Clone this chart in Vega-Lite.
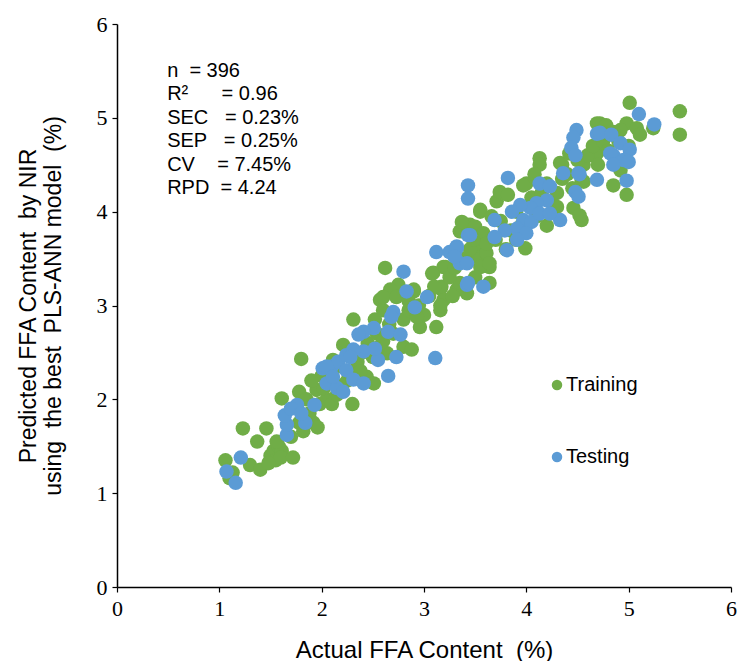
{
  "$schema": "https://vega.github.io/schema/vega-lite/v6.json",
  "width": 614,
  "height": 563,
  "autosize": {"type": "none"},
  "padding": {"left": 117, "top": 24, "right": 6, "bottom": 74},
  "background": "white",
  "config": {
    "view": {"stroke": null},
    "axis": {
      "domainColor": "black", "domainWidth": 1.5, "tickColor": "black", "tickWidth": 1.2, "tickSize": 5,
      "grid": false, "labelFont": "Liberation Serif", "labelFontSize": 22, "labelColor": "black", "labelFlush": false, "format": "d",
      "titleFont": "Liberation Sans", "titleFontSize": 23, "titleFontWeight": "normal", "titleColor": "black"
    }
  },
  "datasets": {
    "pts": [
      {"x":1.06,"y":1.35,"s":"Training"},{"x":1.10,"y":1.16,"s":"Training"},{"x":1.13,"y":1.22,"s":"Training"},{"x":1.23,"y":1.69,"s":"Training"},{"x":1.30,"y":1.30,"s":"Training"},{"x":1.40,"y":1.25,"s":"Training"},{"x":1.37,"y":1.55,"s":"Training"},{"x":1.46,"y":1.69,"s":"Training"},{"x":1.50,"y":1.40,"s":"Training"},{"x":1.53,"y":1.45,"s":"Training"},{"x":1.55,"y":1.35,"s":"Training"},{"x":1.58,"y":1.50,"s":"Training"},{"x":1.61,"y":1.45,"s":"Training"},{"x":1.56,"y":1.55,"s":"Training"},{"x":1.60,"y":1.38,"s":"Training"},{"x":1.48,"y":1.32,"s":"Training"},{"x":1.72,"y":1.38,"s":"Training"},{"x":1.82,"y":1.66,"s":"Training"},{"x":1.92,"y":1.75,"s":"Training"},{"x":1.61,"y":2.01,"s":"Training"},{"x":1.78,"y":2.08,"s":"Training"},{"x":1.80,"y":2.43,"s":"Training"},{"x":1.95,"y":2.10,"s":"Training"},{"x":1.88,"y":1.85,"s":"Training"},{"x":1.98,"y":1.95,"s":"Training"},{"x":2.05,"y":2.00,"s":"Training"},{"x":2.10,"y":1.95,"s":"Training"},{"x":2.15,"y":2.05,"s":"Training"},{"x":2.25,"y":2.20,"s":"Training"},{"x":2.30,"y":1.95,"s":"Training"},{"x":2.20,"y":2.15,"s":"Training"},{"x":2.11,"y":2.42,"s":"Training"},{"x":2.21,"y":2.58,"s":"Training"},{"x":2.16,"y":2.35,"s":"Training"},{"x":2.30,"y":2.30,"s":"Training"},{"x":2.35,"y":2.40,"s":"Training"},{"x":2.44,"y":2.24,"s":"Training"},{"x":2.51,"y":2.17,"s":"Training"},{"x":2.45,"y":2.60,"s":"Training"},{"x":2.40,"y":2.50,"s":"Training"},{"x":2.31,"y":2.85,"s":"Training"},{"x":2.52,"y":2.85,"s":"Training"},{"x":2.54,"y":2.70,"s":"Training"},{"x":2.64,"y":2.49,"s":"Training"},{"x":2.80,"y":2.56,"s":"Training"},{"x":2.88,"y":2.53,"s":"Training"},{"x":2.96,"y":2.77,"s":"Training"},{"x":3.12,"y":2.77,"s":"Training"},{"x":2.57,"y":3.06,"s":"Training"},{"x":2.60,"y":2.95,"s":"Training"},{"x":2.62,"y":3.40,"s":"Training"},{"x":2.73,"y":3.11,"s":"Training"},{"x":2.75,"y":3.22,"s":"Training"},{"x":2.90,"y":3.15,"s":"Training"},{"x":2.67,"y":3.17,"s":"Training"},{"x":2.60,"y":3.09,"s":"Training"},{"x":2.73,"y":3.09,"s":"Training"},{"x":2.90,"y":3.17,"s":"Training"},{"x":3.16,"y":3.18,"s":"Training"},{"x":3.19,"y":3.06,"s":"Training"},{"x":3.16,"y":2.95,"s":"Training"},{"x":3.09,"y":3.35,"s":"Training"},{"x":3.19,"y":3.41,"s":"Training"},{"x":3.08,"y":3.34,"s":"Training"},{"x":3.21,"y":3.41,"s":"Training"},{"x":3.17,"y":3.20,"s":"Training"},{"x":3.16,"y":3.00,"s":"Training"},{"x":3.32,"y":3.17,"s":"Training"},{"x":3.35,"y":3.18,"s":"Training"},{"x":3.42,"y":3.13,"s":"Training"},{"x":3.35,"y":3.24,"s":"Training"},{"x":3.64,"y":3.24,"s":"Training"},{"x":3.64,"y":3.41,"s":"Training"},{"x":3.58,"y":3.52,"s":"Training"},{"x":3.55,"y":3.59,"s":"Training"},{"x":3.51,"y":3.66,"s":"Training"},{"x":3.51,"y":3.49,"s":"Training"},{"x":3.61,"y":3.56,"s":"Training"},{"x":3.55,"y":3.41,"s":"Training"},{"x":3.64,"y":3.45,"s":"Training"},{"x":3.35,"y":3.79,"s":"Training"},{"x":3.42,"y":3.86,"s":"Training"},{"x":3.45,"y":3.86,"s":"Training"},{"x":3.38,"y":3.79,"s":"Training"},{"x":3.37,"y":3.89,"s":"Training"},{"x":3.50,"y":3.84,"s":"Training"},{"x":3.58,"y":3.77,"s":"Training"},{"x":3.61,"y":3.66,"s":"Training"},{"x":3.55,"y":4.00,"s":"Training"},{"x":3.55,"y":4.02,"s":"Training"},{"x":3.71,"y":4.11,"s":"Training"},{"x":3.74,"y":4.21,"s":"Training"},{"x":3.99,"y":3.61,"s":"Training"},{"x":4.00,"y":4.30,"s":"Training"},{"x":4.13,"y":4.57,"s":"Training"},{"x":4.33,"y":4.52,"s":"Training"},{"x":4.56,"y":4.32,"s":"Training"},{"x":4.54,"y":3.91,"s":"Training"},{"x":4.46,"y":4.04,"s":"Training"},{"x":4.69,"y":4.94,"s":"Training"},{"x":4.67,"y":4.59,"s":"Training"},{"x":4.72,"y":4.94,"s":"Training"},{"x":4.98,"y":4.94,"s":"Training"},{"x":5.08,"y":4.89,"s":"Training"},{"x":5.11,"y":4.82,"s":"Training"},{"x":5.24,"y":4.89,"s":"Training"},{"x":4.92,"y":4.87,"s":"Training"},{"x":5.01,"y":5.16,"s":"Training"},{"x":5.50,"y":5.07,"s":"Training"},{"x":5.50,"y":4.82,"s":"Training"},{"x":4.69,"y":4.62,"s":"Training"},{"x":4.70,"y":4.50,"s":"Training"},{"x":4.85,"y":4.28,"s":"Training"},{"x":4.98,"y":4.18,"s":"Training"},{"x":4.92,"y":4.44,"s":"Training"},{"x":4.56,"y":4.50,"s":"Training"},{"x":4.54,"y":4.34,"s":"Training"},{"x":4.52,"y":3.96,"s":"Training"},{"x":2.00,"y":2.25,"s":"Training"},{"x":2.05,"y":2.30,"s":"Training"},{"x":1.90,"y":2.20,"s":"Training"},{"x":2.50,"y":2.45,"s":"Training"},{"x":2.55,"y":2.55,"s":"Training"},{"x":2.70,"y":2.70,"s":"Training"},{"x":2.80,"y":2.85,"s":"Training"},{"x":2.85,"y":2.95,"s":"Training"},{"x":2.95,"y":3.00,"s":"Training"},{"x":3.00,"y":2.90,"s":"Training"},{"x":3.05,"y":3.10,"s":"Training"},{"x":2.85,"y":3.05,"s":"Training"},{"x":3.25,"y":3.30,"s":"Training"},{"x":3.30,"y":3.40,"s":"Training"},{"x":3.40,"y":3.50,"s":"Training"},{"x":3.45,"y":3.60,"s":"Training"},{"x":3.50,"y":3.30,"s":"Training"},{"x":3.70,"y":3.70,"s":"Training"},{"x":3.75,"y":3.90,"s":"Training"},{"x":3.80,"y":3.60,"s":"Training"},{"x":3.85,"y":3.80,"s":"Training"},{"x":3.90,"y":4.00,"s":"Training"},{"x":3.95,"y":3.85,"s":"Training"},{"x":4.05,"y":4.15,"s":"Training"},{"x":4.10,"y":3.95,"s":"Training"},{"x":4.15,"y":4.20,"s":"Training"},{"x":4.20,"y":4.30,"s":"Training"},{"x":4.25,"y":4.10,"s":"Training"},{"x":4.30,"y":4.20,"s":"Training"},{"x":4.35,"y":4.35,"s":"Training"},{"x":4.40,"y":4.40,"s":"Training"},{"x":4.45,"y":4.25,"s":"Training"},{"x":4.50,"y":4.55,"s":"Training"},{"x":4.60,"y":4.60,"s":"Training"},{"x":4.65,"y":4.70,"s":"Training"},{"x":4.75,"y":4.75,"s":"Training"},{"x":4.80,"y":4.65,"s":"Training"},{"x":4.85,"y":4.85,"s":"Training"},{"x":4.90,"y":4.75,"s":"Training"},{"x":5.00,"y":4.70,"s":"Training"},{"x":4.30,"y":4.05,"s":"Training"},{"x":4.20,"y":3.85,"s":"Training"},{"x":3.90,"y":3.70,"s":"Training"},{"x":3.97,"y":4.28,"s":"Training"},{"x":1.96,"y":1.70,"s":"Training"},{"x":1.78,"y":1.75,"s":"Training"},{"x":4.13,"y":4.50,"s":"Training"},{"x":4.35,"y":4.50,"s":"Training"},{"x":1.70,"y":1.60,"s":"Training"},{"x":1.85,"y":2.00,"s":"Training"},{"x":2.02,"y":2.12,"s":"Training"},{"x":2.38,"y":2.30,"s":"Training"},{"x":2.60,"y":2.62,"s":"Training"},{"x":2.66,"y":2.80,"s":"Training"},{"x":2.93,"y":2.88,"s":"Training"},{"x":3.10,"y":3.20,"s":"Training"},{"x":3.28,"y":3.10,"s":"Training"},{"x":3.48,"y":3.70,"s":"Training"},{"x":3.66,"y":3.95,"s":"Training"},{"x":3.82,"y":4.18,"s":"Training"},{"x":4.08,"y":4.40,"s":"Training"},{"x":4.42,"y":4.62,"s":"Training"},{"x":4.78,"y":4.92,"s":"Training"},
      {"x":1.07,"y":1.23,"s":"Testing"},{"x":1.16,"y":1.11,"s":"Testing"},{"x":1.21,"y":1.38,"s":"Testing"},{"x":1.66,"y":1.62,"s":"Testing"},{"x":1.66,"y":1.73,"s":"Testing"},{"x":1.64,"y":1.83,"s":"Testing"},{"x":1.76,"y":1.94,"s":"Testing"},{"x":1.84,"y":1.75,"s":"Testing"},{"x":1.93,"y":1.94,"s":"Testing"},{"x":2.01,"y":2.33,"s":"Testing"},{"x":2.10,"y":2.35,"s":"Testing"},{"x":2.16,"y":2.40,"s":"Testing"},{"x":2.24,"y":2.47,"s":"Testing"},{"x":2.05,"y":2.17,"s":"Testing"},{"x":2.15,"y":2.12,"s":"Testing"},{"x":2.21,"y":2.08,"s":"Testing"},{"x":3.12,"y":3.57,"s":"Testing"},{"x":2.80,"y":3.36,"s":"Testing"},{"x":2.83,"y":3.15,"s":"Testing"},{"x":3.03,"y":3.09,"s":"Testing"},{"x":2.91,"y":2.98,"s":"Testing"},{"x":2.70,"y":2.93,"s":"Testing"},{"x":2.68,"y":2.88,"s":"Testing"},{"x":2.65,"y":2.72,"s":"Testing"},{"x":2.77,"y":2.69,"s":"Testing"},{"x":2.51,"y":2.76,"s":"Testing"},{"x":2.41,"y":2.72,"s":"Testing"},{"x":2.36,"y":2.69,"s":"Testing"},{"x":3.11,"y":2.44,"s":"Testing"},{"x":2.73,"y":2.45,"s":"Testing"},{"x":2.65,"y":2.25,"s":"Testing"},{"x":2.55,"y":2.42,"s":"Testing"},{"x":2.52,"y":2.54,"s":"Testing"},{"x":2.41,"y":2.51,"s":"Testing"},{"x":2.31,"y":2.53,"s":"Testing"},{"x":2.28,"y":2.45,"s":"Testing"},{"x":2.05,"y":2.35,"s":"Testing"},{"x":2.11,"y":2.24,"s":"Testing"},{"x":2.24,"y":2.31,"s":"Testing"},{"x":2.31,"y":2.21,"s":"Testing"},{"x":2.41,"y":2.17,"s":"Testing"},{"x":3.25,"y":3.57,"s":"Testing"},{"x":3.32,"y":3.63,"s":"Testing"},{"x":3.35,"y":3.45,"s":"Testing"},{"x":3.42,"y":3.45,"s":"Testing"},{"x":3.42,"y":3.22,"s":"Testing"},{"x":3.43,"y":3.75,"s":"Testing"},{"x":3.43,"y":4.28,"s":"Testing"},{"x":3.43,"y":4.14,"s":"Testing"},{"x":3.82,"y":4.36,"s":"Testing"},{"x":4.49,"y":4.87,"s":"Testing"},{"x":4.46,"y":4.79,"s":"Testing"},{"x":4.44,"y":4.68,"s":"Testing"},{"x":4.48,"y":4.60,"s":"Testing"},{"x":4.69,"y":4.83,"s":"Testing"},{"x":4.69,"y":4.34,"s":"Testing"},{"x":4.51,"y":4.41,"s":"Testing"},{"x":4.36,"y":4.41,"s":"Testing"},{"x":4.48,"y":4.21,"s":"Testing"},{"x":4.51,"y":4.16,"s":"Testing"},{"x":4.33,"y":3.91,"s":"Testing"},{"x":4.13,"y":4.30,"s":"Testing"},{"x":4.23,"y":4.27,"s":"Testing"},{"x":4.20,"y":4.12,"s":"Testing"},{"x":4.10,"y":4.09,"s":"Testing"},{"x":4.04,"y":4.04,"s":"Testing"},{"x":3.94,"y":4.07,"s":"Testing"},{"x":3.86,"y":4.00,"s":"Testing"},{"x":3.97,"y":3.91,"s":"Testing"},{"x":3.91,"y":3.82,"s":"Testing"},{"x":4.05,"y":3.89,"s":"Testing"},{"x":4.13,"y":3.98,"s":"Testing"},{"x":4.23,"y":3.98,"s":"Testing"},{"x":4.00,"y":3.77,"s":"Testing"},{"x":3.91,"y":3.70,"s":"Testing"},{"x":3.79,"y":3.80,"s":"Testing"},{"x":3.69,"y":3.91,"s":"Testing"},{"x":3.69,"y":3.73,"s":"Testing"},{"x":3.81,"y":3.59,"s":"Testing"},{"x":3.45,"y":3.75,"s":"Testing"},{"x":3.32,"y":3.61,"s":"Testing"},{"x":3.30,"y":3.52,"s":"Testing"},{"x":3.43,"y":3.24,"s":"Testing"},{"x":3.58,"y":3.20,"s":"Testing"},{"x":5.10,"y":5.04,"s":"Testing"},{"x":5.25,"y":4.93,"s":"Testing"},{"x":4.72,"y":4.84,"s":"Testing"},{"x":4.83,"y":4.82,"s":"Testing"},{"x":4.92,"y":4.73,"s":"Testing"},{"x":5.01,"y":4.66,"s":"Testing"},{"x":4.85,"y":4.60,"s":"Testing"},{"x":4.82,"y":4.62,"s":"Testing"},{"x":4.95,"y":4.55,"s":"Testing"},{"x":4.85,"y":4.50,"s":"Testing"},{"x":5.00,"y":4.53,"s":"Testing"},{"x":4.98,"y":4.33,"s":"Testing"},{"x":4.52,"y":4.40,"s":"Testing"},{"x":1.70,"y":1.90,"s":"Testing"},{"x":1.80,"y":1.85,"s":"Testing"}
    ],
    "stats": [
      {"t":"n\u00a0\u00a0= 396","y":5.5},
      {"t":"R²\u00a0\u00a0\u00a0\u00a0\u00a0\u00a0= 0.96","y":5.25},
      {"t":"SEC\u00a0\u00a0\u00a0= 0.23%","y":5.0},
      {"t":"SEP\u00a0\u00a0\u00a0= 0.25%","y":4.75},
      {"t":"CV\u00a0\u00a0\u00a0\u00a0= 7.45%","y":4.5},
      {"t":"RPD\u00a0\u00a0= 4.24","y":4.25}
    ]
  },
  "layer": [
    {
      "data": {"name": "pts"},
      "mark": {"type": "circle", "size": 210, "opacity": 1},
      "encoding": {
        "x": {"field": "x", "type": "quantitative", "scale": {"domain": [0, 6]},
              "axis": {"values": [0,1,2,3,4,5,6], "title": "Actual FFA Content\u00a0\u00a0(%)", "labelPadding": 6, "titlePadding": 19, "titleFontSize": 24}},
        "y": {"field": "y", "type": "quantitative", "scale": {"domain": [0, 6]},
              "axis": {"values": [0,1,2,3,4,5,6], "title": ["Predicted FFA Content\u00a0\u00a0by NIR", "using\u00a0\u00a0the best\u00a0\u00a0PLS-ANN model\u00a0\u00a0(%)"], "labelPadding": 5, "titlePadding": 31, "titleLineHeight": 25}},
        "color": {"field": "s", "type": "nominal",
                  "scale": {"domain": ["Training", "Testing"], "range": ["#70AD47", "#5B9BD5"]},
                  "legend": {"title": null, "orient": "none", "legendX": 430, "legendY": 351,
                             "symbolType": "circle", "symbolSize": 110, "symbolStrokeWidth": 0, "symbolOpacity": 1,
                             "labelFont": "Liberation Sans", "labelFontSize": 20, "labelColor": "black",
                             "labelOffset": -1, "rowPadding": 52}}
      }
    },
    {
      "data": {"name": "stats"},
      "mark": {"type": "text", "align": "left", "baseline": "middle", "font": "Liberation Sans", "fontSize": 20, "color": "black"},
      "encoding": {
        "x": {"datum": 0.49, "type": "quantitative"},
        "y": {"field": "y", "type": "quantitative"},
        "text": {"field": "t"}
      }
    }
  ]
}
